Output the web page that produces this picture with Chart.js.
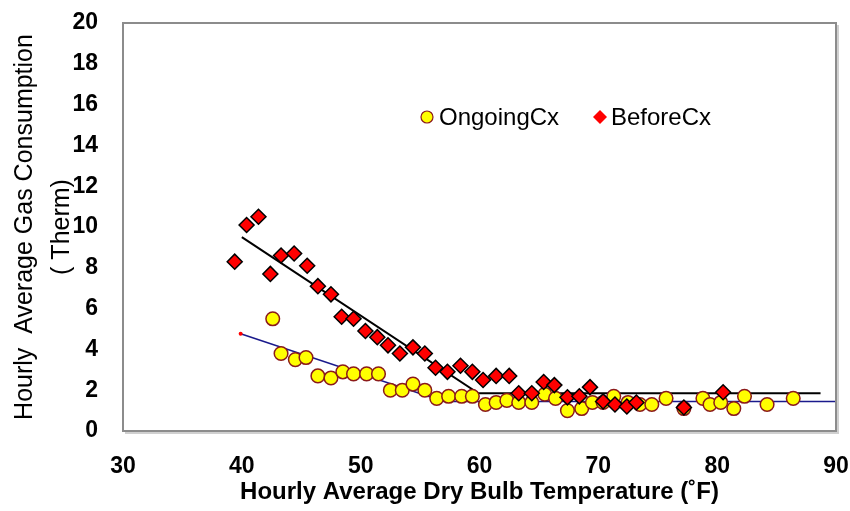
<!DOCTYPE html>
<html>
<head>
<meta charset="utf-8">
<script src="https://cdn.jsdelivr.net/npm/chart.js@4.4.0/dist/chart.umd.min.js"></script>
<style>
  body { margin: 0; background: #fff; }
  #wrap { width: 850px; height: 511px; }
</style>
</head>
<body>
<div id="wrap"><canvas id="gasChart"></canvas></div>
<script>
// scatter data (temperature F, therm)
const ongoingTemp = [42.6, 43.3, 44.5, 45.4, 46.4, 47.5, 48.5, 49.4, 50.5, 51.5, 52.5, 53.5, 54.4, 55.4,
    56.4, 57.4, 58.5, 59.4, 60.5, 61.4, 62.3, 63.3, 64.4, 65.5, 66.4, 67.4, 68.6, 69.5, 70.4, 71.3,
    72.5, 73.5, 74.5, 75.7, 77.2, 78.8, 79.4, 80.3, 81.4, 82.3, 84.2, 86.4];
const ongoingGas = [5.5, 3.8, 3.5, 3.6, 2.7, 2.6, 2.9, 2.8, 2.8, 2.8, 2.0, 2.0, 2.3, 2.0,
    1.6, 1.7, 1.7, 1.7, 1.3, 1.4, 1.5, 1.4, 1.4, 1.8, 1.6, 1.0, 1.1, 1.4, 1.4, 1.7,
    1.4, 1.3, 1.3, 1.6, 1.1, 1.6, 1.3, 1.4, 1.1, 1.7, 1.3, 1.6];

const beforeTemp = [39.4, 40.4, 41.4, 42.4, 43.3, 44.4, 45.5, 46.4, 47.5, 48.4, 49.4, 50.4, 51.4, 52.3,
    53.3, 54.4, 55.4, 56.3, 57.3, 58.4, 59.4, 60.3, 61.4, 62.5, 63.3, 64.4, 65.4, 66.3, 67.4, 68.4,
    69.3, 70.4, 71.4, 72.4, 73.2, 77.2, 80.5];
const beforeGas = [8.3, 10.1, 10.5, 7.7, 8.6, 8.7, 8.1, 7.1, 6.7, 5.6, 5.5, 4.9, 4.6, 4.2,
    3.8, 4.1, 3.8, 3.1, 2.9, 3.2, 2.9, 2.5, 2.7, 2.7, 1.85, 1.85, 2.4, 2.25, 1.65, 1.7,
    2.15, 1.45, 1.3, 1.2, 1.4, 1.15, 1.9];

// change-point fit lines
const ongoingFitTemp = [39.9, 57.0, 90.2];
const ongoingFitGas = [4.77, 1.45, 1.45];
const beforeFitTemp = [40.0, 59.9, 88.7];
const beforeFitGas = [9.5, 1.85, 1.85];

const xTicks = [30, 40, 50, 60, 70, 80, 90];
const yTicks = [0, 2, 4, 6, 8, 10, 12, 14, 16, 18, 20];

const FONT = '"Liberation Sans", Arial, sans-serif';
const toPoints = (xs, ys) => xs.map((x, i) => ({ x: x, y: ys[i] }));

const frame = {
    id: 'frame',
    afterDraw(chart) {
        const { ctx, chartArea: a } = chart;
        ctx.save();
        ctx.strokeStyle = '#d0d0d0';
        ctx.lineWidth = 2;
        ctx.beginPath();
        ctx.moveTo(a.left + 2, a.bottom + 2);
        ctx.lineTo(a.right + 2, a.bottom + 2);
        ctx.lineTo(a.right + 2, a.top + 2);
        ctx.stroke();
        ctx.strokeStyle = '#8c8c8c';
        ctx.strokeRect(a.left, a.top, a.right - a.left, a.bottom - a.top);

        // legend
        const ly = 117;
        ctx.font = '24px ' + FONT;
        ctx.textBaseline = 'middle';
        ctx.beginPath();
        ctx.arc(427, ly, 6, 0, Math.PI * 2);
        ctx.fillStyle = '#ffff00';
        ctx.fill();
        ctx.strokeStyle = '#8b1a1a';
        ctx.lineWidth = 1.2;
        ctx.stroke();
        ctx.fillStyle = '#000';
        ctx.fillText(chart.data.datasets[0].label, 439, ly + 1);
        ctx.beginPath();
        ctx.moveTo(600, ly - 7);
        ctx.lineTo(607, ly);
        ctx.lineTo(600, ly + 7);
        ctx.lineTo(593, ly);
        ctx.closePath();
        ctx.fillStyle = '#ff0000';
        ctx.fill();
        ctx.fillStyle = '#000';
        ctx.fillText(chart.data.datasets[1].label, 611, ly + 1);
        ctx.restore();
    }
};

const ctx = document.getElementById('gasChart').getContext('2d');
new Chart(ctx, {
    type: 'scatter',
    data: {
        datasets: [{
            label: 'OngoingCx',
            data: toPoints(ongoingTemp, ongoingGas),
            pointStyle: 'circle',
            pointRadius: 6.8,
            backgroundColor: '#ffff00',
            borderColor: '#8b1a1a',
            borderWidth: 1.5,
            order: 2
        }, {
            label: 'BeforeCx',
            data: toPoints(beforeTemp, beforeGas),
            pointStyle: 'rectRot',
            pointRadius: 7.5,
            backgroundColor: '#ff0000',
            borderColor: '#000000',
            borderWidth: 1.5,
            order: 1
        }, {
            label: 'OngoingFit',
            data: toPoints(ongoingFitTemp, ongoingFitGas),
            showLine: true,
            borderColor: '#1a1a8c',
            borderWidth: 1.5,
            pointRadius: [2, 0, 0],
            pointBackgroundColor: '#ff0000',
            pointBorderWidth: 0,
            order: 3
        }, {
            label: 'BeforeFit',
            data: toPoints(beforeFitTemp, beforeFitGas),
            showLine: true,
            borderColor: '#000000',
            borderWidth: 2,
            pointRadius: 0,
            order: 3
        }]
    },
    options: {
        responsive: true,
        maintainAspectRatio: false,
        animation: false,
        layout: { padding: { top: 23, right: 14, left: 0, bottom: 0 } },
        plugins: {
            legend: { display: false },
            tooltip: { enabled: false }
        },
        scales: {
            x: {
                type: 'linear',
                min: 30,
                max: 90,
                afterBuildTicks: s => { s.ticks = xTicks.map(v => ({ value: v })); },
                afterFit: s => { s.height = 80; s.paddingLeft = 0; s.paddingRight = 0; },
                grid: { display: false, drawTicks: false },
                border: { display: false },
                ticks: {
                    padding: 22,
                    color: '#000',
                    font: { family: FONT, size: 23, weight: 'bold' }
                },
                title: {
                    display: true,
                    text: 'Hourly Average Dry Bulb Temperature (˚F)',
                    color: '#000',
                    padding: { top: 0, bottom: 4 },
                    font: { family: FONT, size: 24, weight: 'bold' }
                }
            },
            y: {
                min: 0,
                max: 20,
                afterBuildTicks: s => { s.ticks = yTicks.map(v => ({ value: v })); },
                afterFit: s => { s.width = 123; s.paddingTop = 0; s.paddingBottom = 0; },
                grid: { display: false, drawTicks: false },
                border: { display: false },
                ticks: {
                    padding: 25,
                    color: '#000',
                    font: { family: FONT, size: 23, weight: 'bold' }
                },
                title: {
                    display: true,
                    text: ['Hourly  Average Gas Consumption', '( Therm)'],
                    color: '#000',
                    padding: { top: 6, bottom: 0 },
                    font: { family: FONT, size: 25, lineHeight: 1.5 }
                }
            }
        }
    },
    plugins: [frame]
});
</script>
</body>
</html>
